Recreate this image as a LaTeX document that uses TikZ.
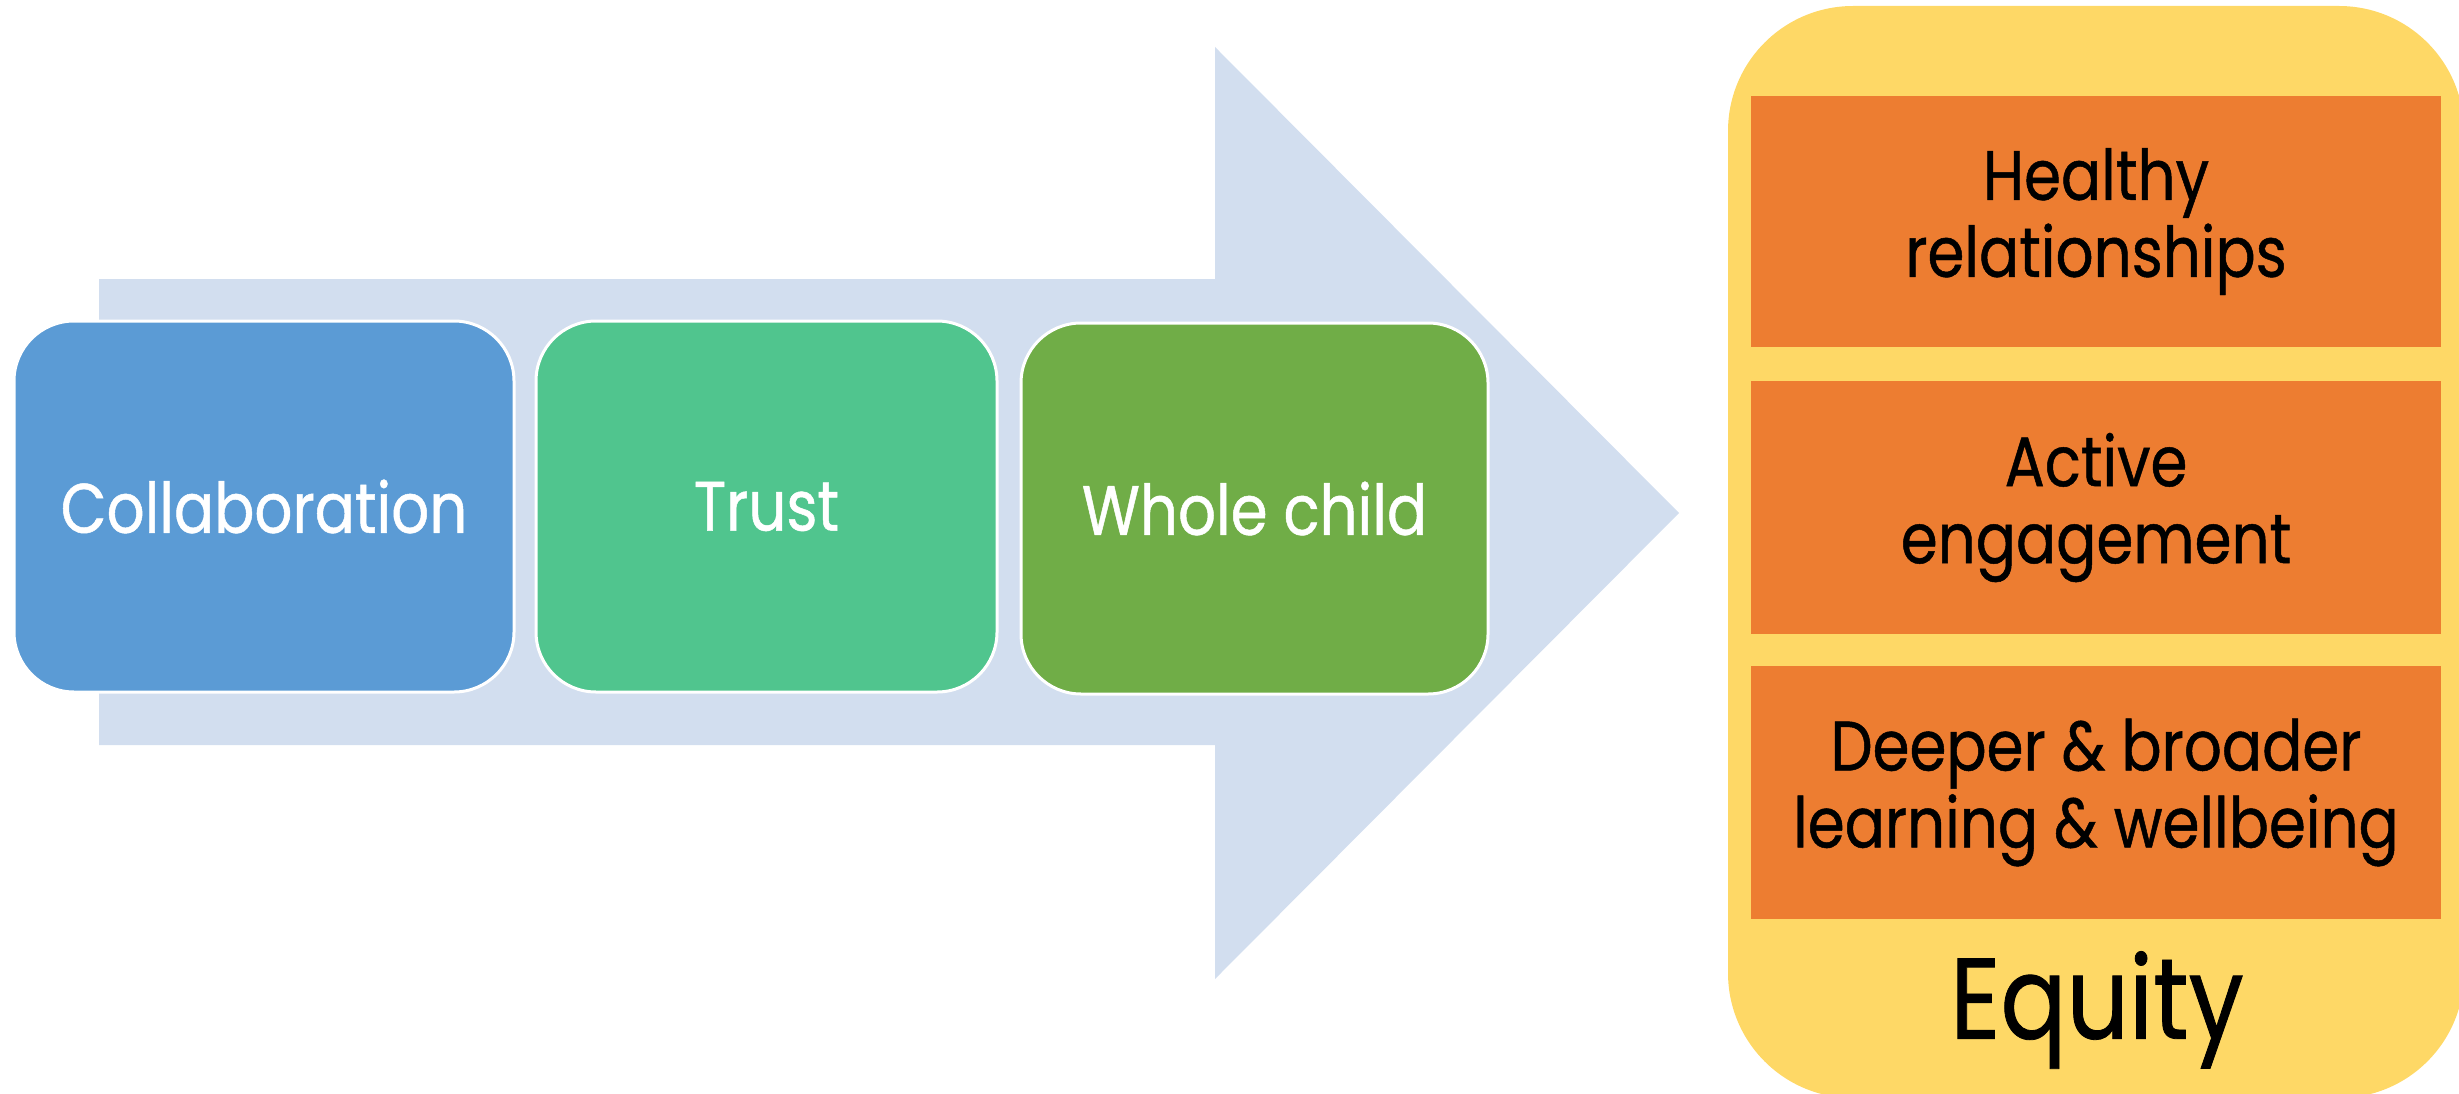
\documentclass[tikz,border=0pt]{standalone}
\usepackage{fontspec}
\setmainfont{Poppins}[FakeStretch=0.85, FakeBold=0.7]
\definecolor{arrowc}{HTML}{D2DEEF}
\definecolor{bluec}{HTML}{5B9BD5}
\definecolor{greenc}{HTML}{50C58E}
\definecolor{dgreenc}{HTML}{70AD47}
\definecolor{yellowc}{HTML}{FED866}
\definecolor{orangec}{HTML}{ED7D31}
\tikzset{
  stepbox/.style={draw=white, line width=3pt, rounded corners=60pt, text=white,
    minimum height=371pt, inner sep=0pt, font=\fontsize{70}{80}\selectfont},
  outbox/.style={fill=orangec, minimum width=690pt, inner sep=0pt, align=center,
    text=black, font=\fontsize{70}{77}\selectfont},
}
\begin{document}
\begin{tikzpicture}[x=1pt,y=-1pt]
\path[use as bounding box] (0,0) rectangle (2459,1094);
\clip (0,0) rectangle (2459,1094);
\fill[arrowc] (99,279) -- (1215,279) -- (1215,47) -- (1679,513) -- (1215,979) -- (1215,745) -- (99,745) -- cycle;
\node[stepbox, fill=bluec, minimum width=500pt] (collab) at (264,506.5) {Collaboration};
\node[stepbox, fill=greenc, minimum width=461pt] (trust) at (766.5,506.5) {Trust};
\node[stepbox, fill=dgreenc, minimum width=467pt] (whole) at (1254.5,508.5) {Whole child};
\node[fill=yellowc, rounded corners=125pt, minimum width=736pt, minimum height=1092pt, inner sep=0pt] (eqbox) at (2096,552) {};
\node[outbox, minimum height=251pt] (health) at (2096,221.5) {Healthy\\relationships};
\node[outbox, minimum height=253pt] (active) at (2096,507.5) {Active\\engagement};
\node[outbox, minimum height=253pt] (deeper) at (2096,792.5) {Deeper \& broader\\learning \& wellbeing};
\node[font=\fontsize{115}{120}\selectfont, inner sep=0pt] (equity) at (2097,1010) {Equity};
\end{tikzpicture}
\end{document}
